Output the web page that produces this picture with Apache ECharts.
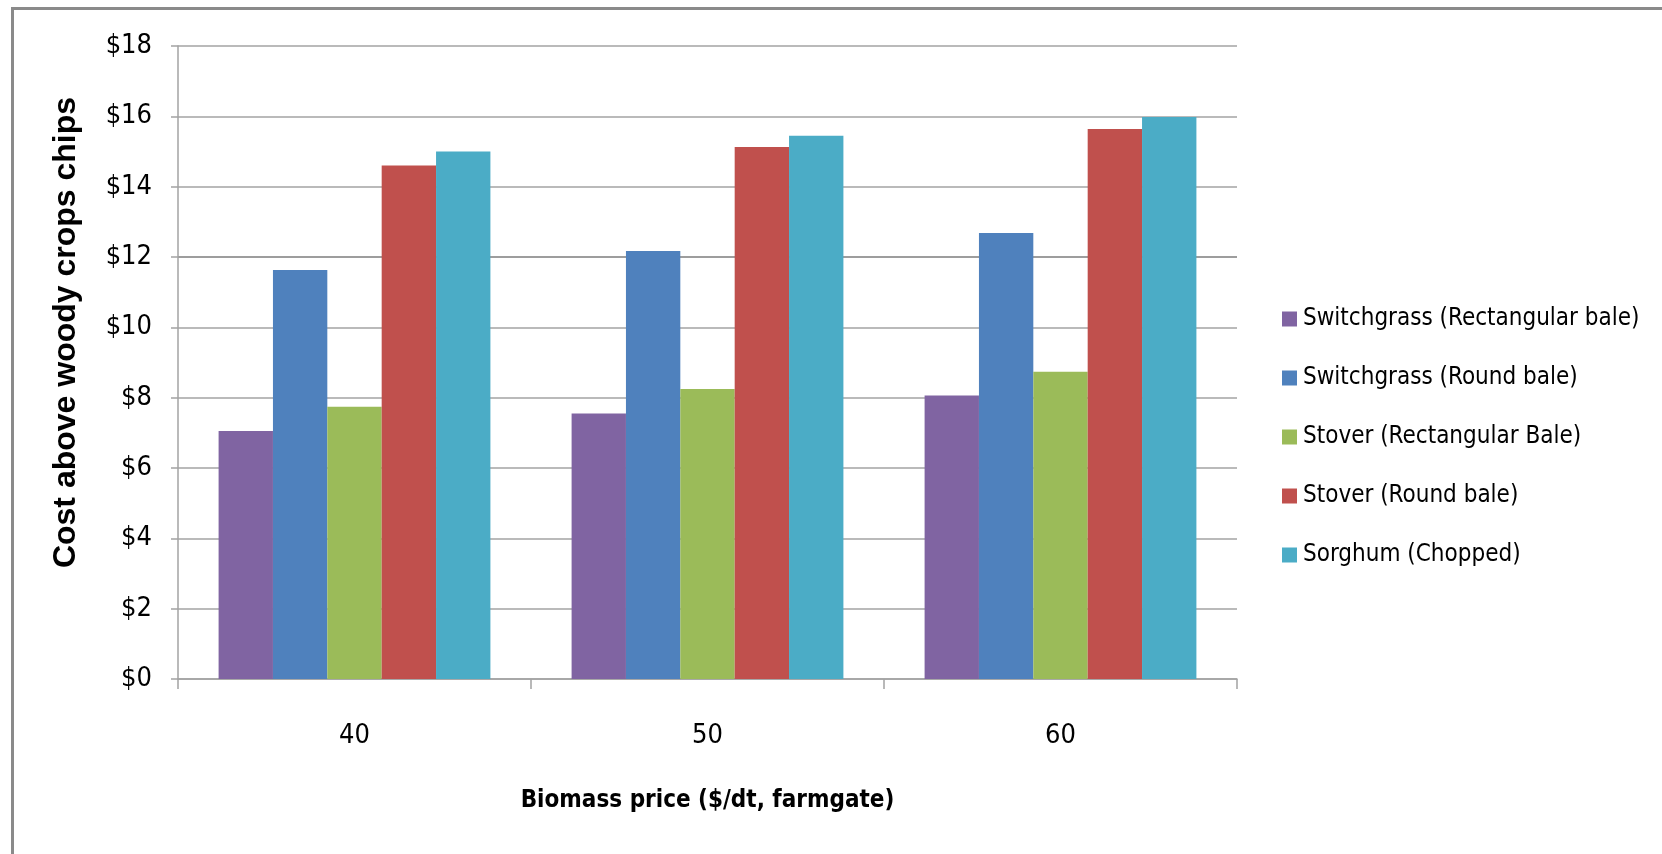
<!DOCTYPE html>
<html>
<head>
<meta charset="utf-8">
<title>Cost above woody crops chips</title>
<script src="https://cdn.jsdelivr.net/npm/echarts@6/dist/echarts.min.js"></script>
<style>
  html, body { margin: 0; padding: 0; background: #ffffff; }
  #chart { width: 1662px; height: 854px; }
</style>
</head>
<body>
<div id="chart"></div>
<script>
// Biomass farmgate price categories ($/dt)
const categories = ['40', '50', '60'];

// Cost above woody crop chips, per feedstock and handling form
const switchgrassRect = [7.05, 7.55, 8.06];
const switchgrassRound = [11.63, 12.17, 12.68];
const stoverRect = [7.74, 8.25, 8.74];
const stoverRound = [14.60, 15.13, 15.64];
const sorghumChopped = [15.00, 15.45, 15.98];

const seriesNames = [
  'Switchgrass (Rectangular bale)',
  'Switchgrass (Round bale)',
  'Stover (Rectangular Bale)',
  'Stover (Round bale)',
  'Sorghum (Chopped)'
];
const seriesValues = [switchgrassRect, switchgrassRound, stoverRect, stoverRound, sorghumChopped];
const seriesColors = ['#8064A2', '#4F81BD', '#9BBB59', '#C0504D', '#4BACC6'];

const yTicks = { min: 0, max: 18, interval: 2 };

const labelFont = '"DejaVu Sans Condensed", "Liberation Sans Narrow", "Noto Sans", sans-serif';

// Gridline colours: the $12 line is drawn a little darker
const gridColors = [];
for (let v = yTicks.min; v <= yTicks.max; v += yTicks.interval) {
  gridColors.push(v === 12 ? '#7c7c7c' : '#a3a3a3');
}

const chart = echarts.init(document.getElementById('chart'), null, { renderer: 'canvas' });

chart.setOption({
  backgroundColor: '#ffffff',
  animation: false,
  color: seriesColors,
  graphic: [{
    type: 'rect',
    z: 100,
    silent: true,
    shape: { x: 12.5, y: 8.5, width: 1800, height: 1000 },
    style: { fill: 'none', stroke: '#8a8a8a', lineWidth: 3 }
  }],
  grid: { left: 178, right: 425, top: 46, bottom: 175, containLabel: false },
  legend: {
    orient: 'vertical',
    left: 1277,
    top: 302,
    icon: 'rect',
    itemWidth: 15,
    itemHeight: 15,
    itemGap: 35,
    selectedMode: false,
    textStyle: { fontFamily: labelFont, fontSize: 24, color: '#000000', padding: [0, 0, 0, 1] },
    data: seriesNames
  },
  xAxis: {
    type: 'category',
    data: categories,
    name: 'Biomass price ($/dt, farmgate)',
    nameLocation: 'middle',
    nameGap: 110,
    nameTextStyle: { fontFamily: labelFont, fontSize: 24, fontWeight: 'bold', color: '#000000' },
    axisLine: { show: true, lineStyle: { color: '#a3a3a3', width: 1.5 } },
    axisTick: { show: true, length: 10, lineStyle: { color: '#a3a3a3', width: 1.5 } },
    axisLabel: { fontFamily: labelFont, fontSize: 27, color: '#000000', margin: 43 },
    splitLine: { show: false }
  },
  yAxis: {
    type: 'value',
    min: yTicks.min,
    max: yTicks.max,
    interval: yTicks.interval,
    name: 'Cost above woody crops chips',
    nameLocation: 'middle',
    nameGap: 96,
    nameRotate: 90,
    nameTextStyle: {
      fontFamily: '"Liberation Sans", Arial, sans-serif',
      fontSize: 32,
      fontWeight: 'bold',
      color: '#000000',
      padding: [0, 0, 0, 60]
    },
    axisLine: { show: true, lineStyle: { color: '#a3a3a3', width: 1.5 } },
    axisTick: { show: true, length: 7, lineStyle: { color: '#a3a3a3', width: 1.5 } },
    axisLabel: {
      fontFamily: labelFont,
      fontSize: 27,
      color: '#000000',
      margin: 26,
      formatter: function (v) { return '$' + v; }
    },
    splitLine: { show: true, lineStyle: { color: gridColors, width: 1.5 } }
  },
  series: seriesNames.map(function (name, i) {
    return {
      name: name,
      type: 'bar',
      data: seriesValues[i],
      barGap: '0%',
      barCategoryGap: '23%',
      itemStyle: { color: seriesColors[i] }
    };
  })
});
</script>
</body>
</html>
